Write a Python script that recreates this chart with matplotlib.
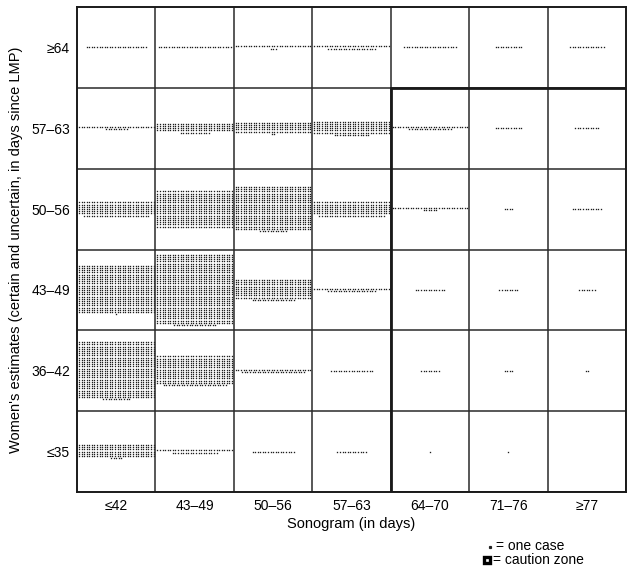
import numpy as np
import matplotlib
matplotlib.use("Agg")
import matplotlib.pyplot as plt
from matplotlib.patches import Rectangle

plt.rcParams['font.family'] = ['Liberation Sans', 'DejaVu Sans']

# sonogram categories (columns) and women's estimates (rows, top to bottom)
sono_labels = ["≤42", "43–49", "50–56", "57–63", "64–70", "71–76", "≥77"]
women_labels = ["≥64", "57–63", "50–56", "43–49", "36–42", "≤35"]

# number of cases per cell, one list per women's-estimate row (top to bottom)
row_ge64 = [24, 29, 33, 49, 21, 11, 14]
row_57_63 = [39, 132, 152, 194, 47, 11, 10]
row_50_56 = [206, 510, 611, 206, 36, 4, 12]
row_43_49 = [661, 977, 287, 49, 12, 8, 7]
row_36_42 = [791, 415, 55, 17, 8, 4, 2]
row_le35 = [185, 48, 17, 12, 1, 1, 0]
counts = [row_ge64, row_57_63, row_50_56, row_43_49, row_36_42, row_le35]

per_row = 30
dx = 1 / 30.5
dy = 0.0272

fig = plt.figure(figsize=(6.3, 5.71), dpi=100)
ax = fig.add_axes([77 / 630, 1 - 492 / 571, 549 / 630, 485 / 571])

nrows = len(women_labels)
ncols = len(sono_labels)

xs, ys = [], []
for r, row in enumerate(counts):
    cy = nrows - r - 0.5
    for c, n in enumerate(row):
        if n == 0:
            continue
        cx = c + 0.5
        full, rest = divmod(n, per_row)
        lines = [per_row] * full + ([rest] if rest else [])
        top = cy + (len(lines) - 1) * dy / 2
        for k, m in enumerate(lines):
            yk = top - k * dy
            for i in range(m):
                xs.append(cx + (i - (m - 1) / 2) * dx)
                ys.append(yk)

ax.plot(xs, ys, ls='none', marker='s', ms=0.95, mew=0, color='#1e1e1e')

# grid lines
for c in range(1, ncols):
    ax.axvline(c, color='#2a2a2a', lw=1.1)
for r in range(1, nrows):
    ax.axhline(r, color='#2a2a2a', lw=1.1)

# caution zone
ax.add_patch(Rectangle((4, 0), 3, 5, fill=False, ec='#1a1a1a', lw=2.0, zorder=5))

ax.set_xlim(0, ncols)
ax.set_ylim(0, nrows)
ax.set_xticks(np.arange(ncols) + 0.5)
ax.set_xticklabels(sono_labels, fontsize=10)
ax.set_yticks(nrows - np.arange(nrows) - 0.5)
ax.set_yticklabels(women_labels, fontsize=10)
ax.tick_params(length=0, pad=5)
for sp in ax.spines.values():
    sp.set_linewidth(1.4)
    sp.set_color('#1a1a1a')

ax.set_xlabel("Sonogram (in days)", fontsize=10.5, labelpad=3)
ax.set_ylabel("Women's estimates (certain and uncertain, in days since LMP)",
              fontsize=10.5, labelpad=6)

# key
fig.text(496 / 630, 1 - 546 / 571, "= one case", fontsize=10, va='center', ha='left')
fig.text(493 / 630, 1 - 560 / 571, "= caution zone", fontsize=10, va='center', ha='left')
ax.plot([489.5 / 630], [1 - 547 / 571], marker='s', ms=1.3, color='#222222',
        transform=fig.transFigure, clip_on=False)
ax.plot([486.5 / 630], [1 - 560 / 571], marker='s', ms=5.0, mfc='white', mec='black',
        mew=2.4, transform=fig.transFigure, clip_on=False)

fig.savefig("out.png", dpi=100)
